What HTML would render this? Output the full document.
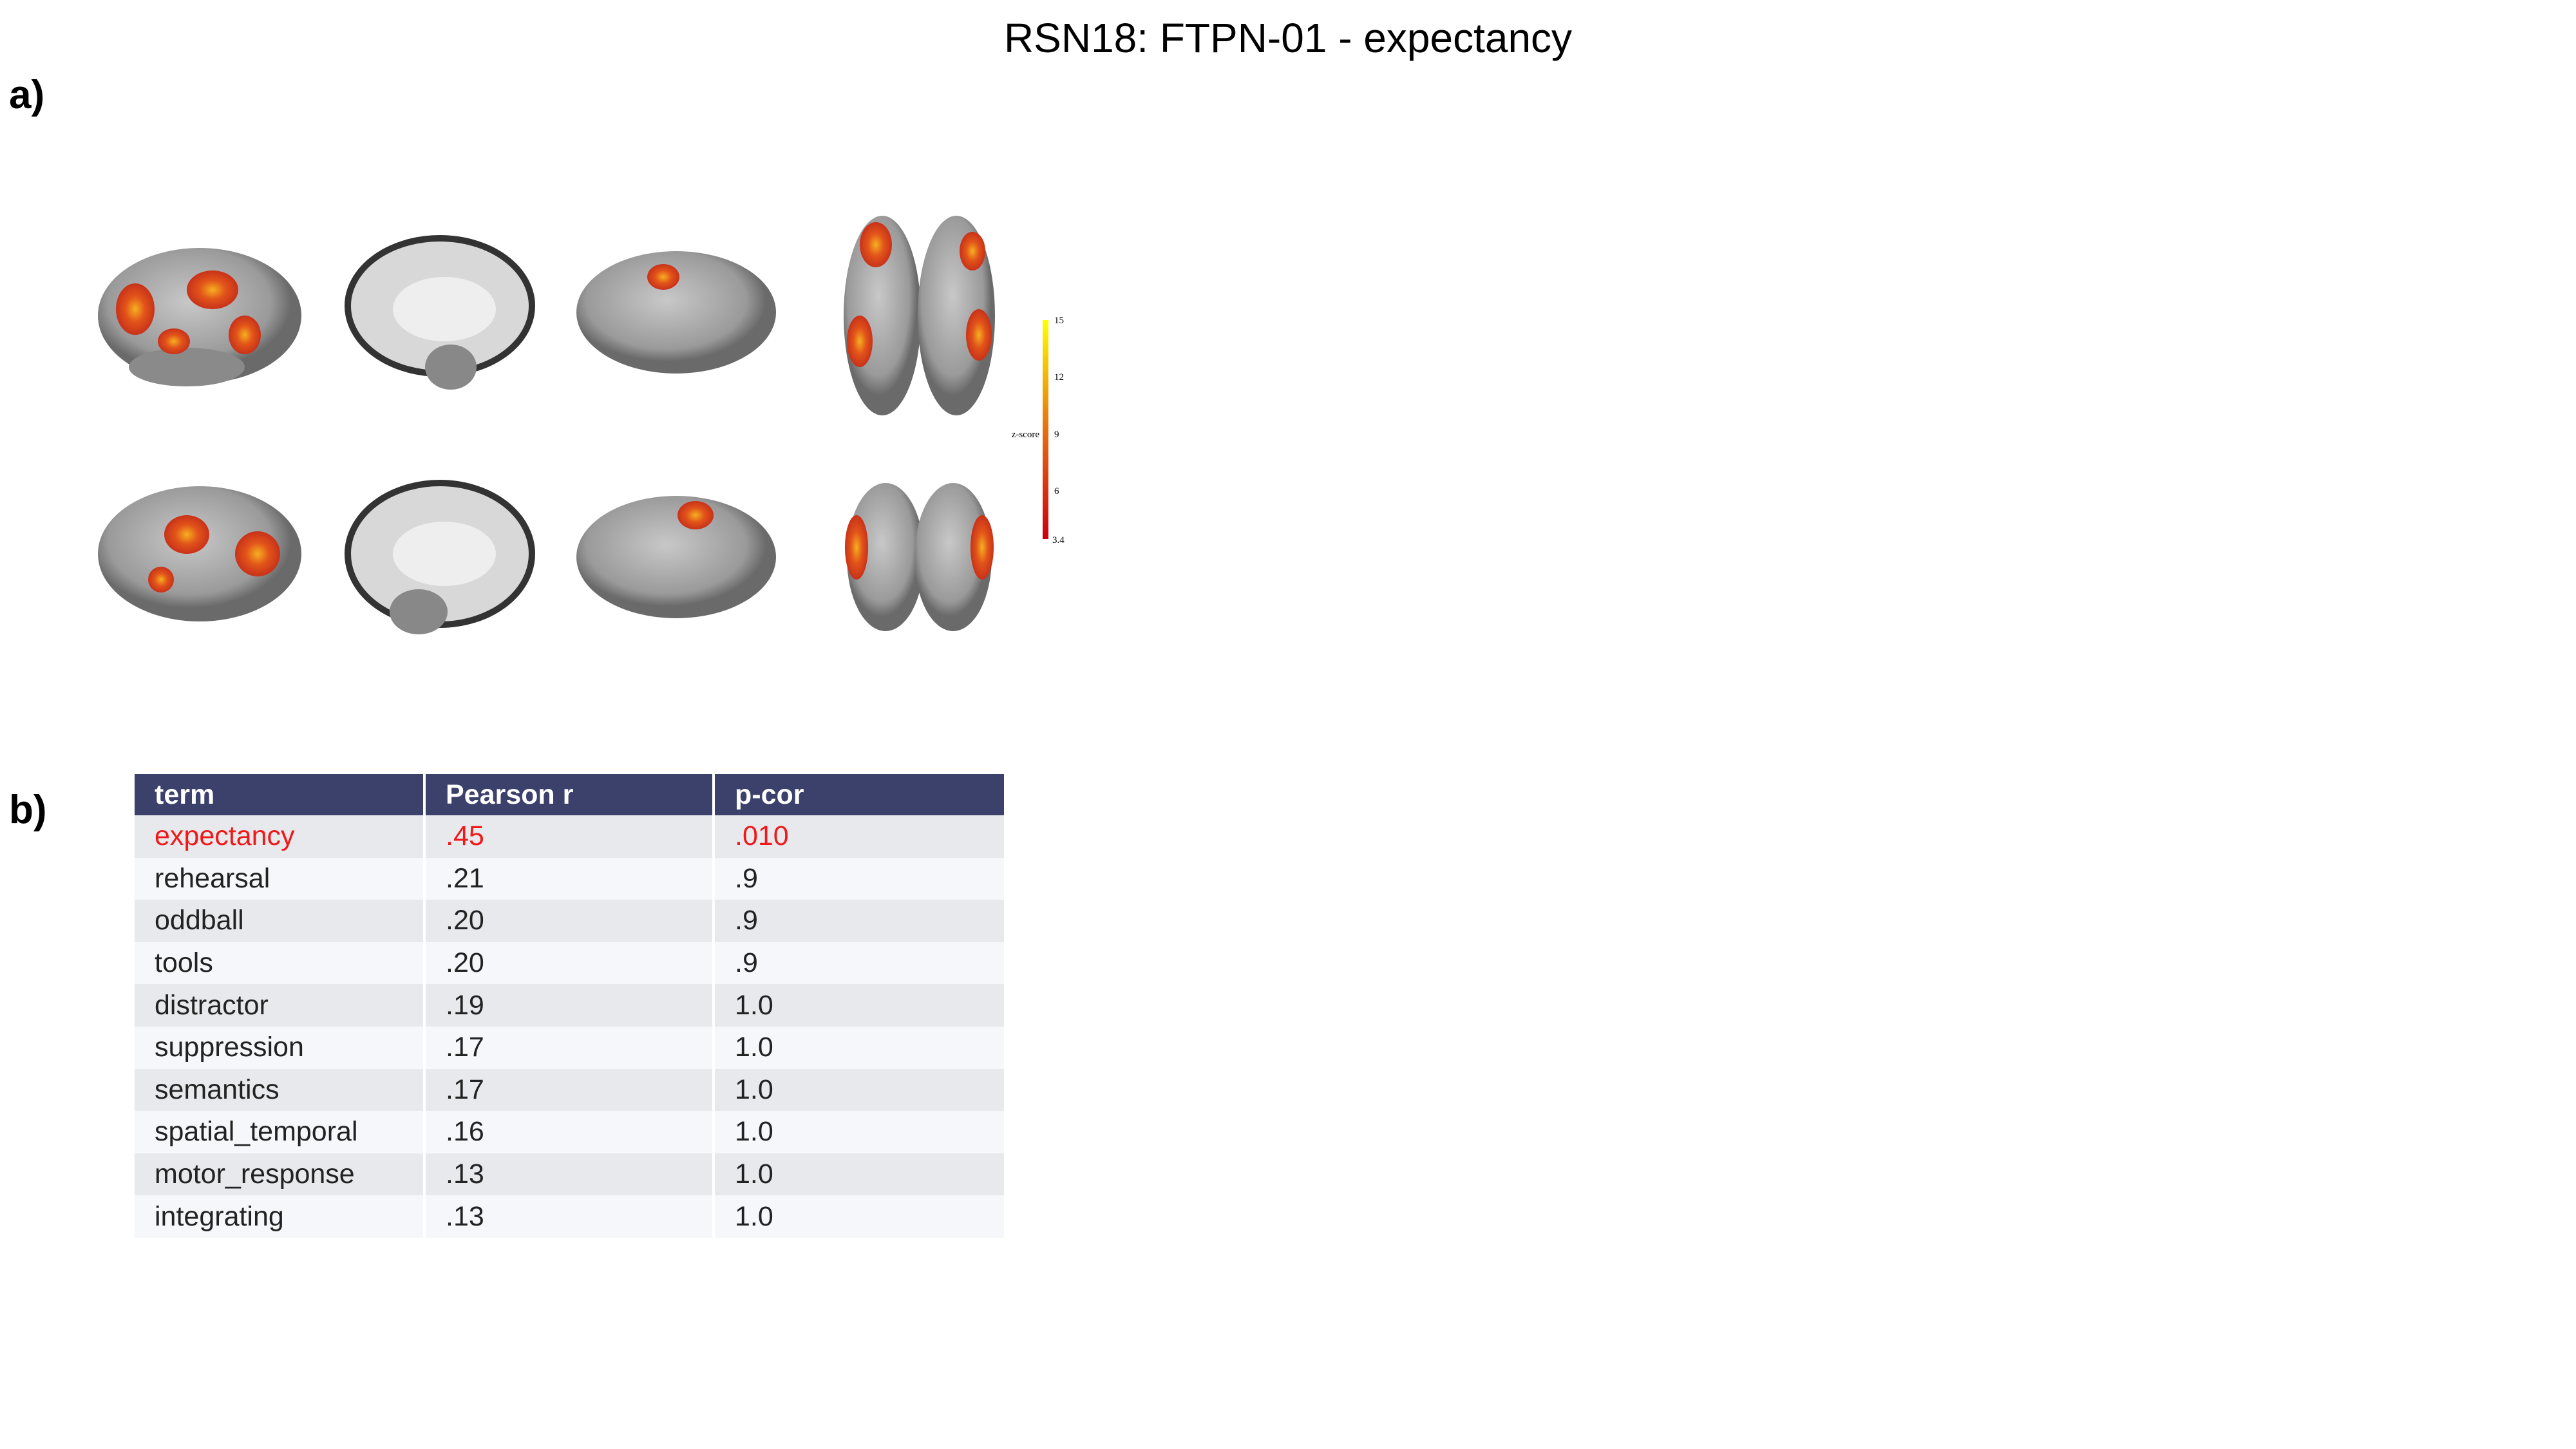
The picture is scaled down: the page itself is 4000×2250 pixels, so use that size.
<!DOCTYPE html>
<html><head><meta charset="utf-8"><style>
body{margin:0;width:4000px;height:2250px;background:#fff;position:relative;overflow:hidden;font-family:"Liberation Sans","DejaVu Sans",sans-serif}
.abs{position:absolute}
table{border-collapse:collapse;table-layout:fixed}
td,th{height:65.6px;padding:0 0 0 31px;text-align:left;font-size:43px;font-family:"Liberation Sans","DejaVu Sans",sans-serif;color:#222;border-right:4px solid #fff}
th{background:#3b416b;color:#fff;font-weight:bold;height:64px}
tr:nth-child(odd) td{background:#f6f7fb}
tr:nth-child(even) td{background:#e8e9ed}
.hl td{color:#f01818}
</style></head><body>
<div class="abs" style="left:0;width:4000px;top:22px;text-align:center;font-size:64px;color:#000">RSN18: FTPN-01 - expectancy</div>
<div class="abs" style="left:14px;top:112px;font-size:62px;font-weight:bold">a)</div>
<div class="abs" style="left:14px;top:1222px;font-size:62px;font-weight:bold">b)</div>

<svg class="abs" style="left:0;top:0" width="1700" height="1000">
<defs>
<radialGradient id="blob"><stop offset="0" stop-color="#f5b020"/><stop offset="0.5" stop-color="#e2541a"/><stop offset="1" stop-color="#c8321a"/></radialGradient>
<radialGradient id="gray" cx="0.45" cy="0.4"><stop offset="0" stop-color="#c8c8c8"/><stop offset="0.8" stop-color="#9a9a9a"/><stop offset="1" stop-color="#6a6a6a"/></radialGradient>
<linearGradient id="cb" x1="0" y1="1" x2="0" y2="0"><stop offset="0" stop-color="#c80010"/><stop offset="0.5" stop-color="#e57010"/><stop offset="1" stop-color="#ffff00"/></linearGradient>
</defs>
<g>
<ellipse cx="310" cy="490" rx="158" ry="105" fill="url(#gray)"/>
<ellipse cx="290" cy="570" rx="90" ry="30" fill="#8a8a8a"/>
<ellipse cx="210" cy="480" rx="30" ry="40" fill="url(#blob)"/><ellipse cx="330" cy="450" rx="40" ry="30" fill="url(#blob)"/>
<ellipse cx="380" cy="520" rx="25" ry="30" fill="url(#blob)"/><ellipse cx="270" cy="530" rx="25" ry="20" fill="url(#blob)"/>
</g>
<g>
<ellipse cx="683" cy="475" rx="143" ry="105" fill="#d8d8d8" stroke="#333" stroke-width="10"/>
<ellipse cx="690" cy="480" rx="80" ry="50" fill="#eee"/><ellipse cx="700" cy="570" rx="40" ry="35" fill="#888"/>
</g>
<g>
<ellipse cx="1050" cy="485" rx="155" ry="95" fill="url(#gray)"/>
<ellipse cx="1030" cy="430" rx="25" ry="20" fill="url(#blob)"/>
</g>
<g>
<ellipse cx="1370" cy="490" rx="60" ry="155" fill="url(#gray)"/><ellipse cx="1485" cy="490" rx="60" ry="155" fill="url(#gray)"/>
<ellipse cx="1360" cy="380" rx="25" ry="35" fill="url(#blob)"/><ellipse cx="1335" cy="530" rx="20" ry="40" fill="url(#blob)"/>
<ellipse cx="1520" cy="520" rx="20" ry="40" fill="url(#blob)"/><ellipse cx="1510" cy="390" rx="20" ry="30" fill="url(#blob)"/>
</g>
<g>
<ellipse cx="310" cy="860" rx="158" ry="105" fill="url(#gray)"/>
<ellipse cx="290" cy="830" rx="35" ry="30" fill="url(#blob)"/><ellipse cx="400" cy="860" rx="35" ry="35" fill="url(#blob)"/>
<ellipse cx="250" cy="900" rx="20" ry="20" fill="url(#blob)"/>
</g>
<g>
<ellipse cx="683" cy="860" rx="143" ry="110" fill="#d8d8d8" stroke="#333" stroke-width="10"/>
<ellipse cx="690" cy="860" rx="80" ry="50" fill="#eee"/><ellipse cx="650" cy="950" rx="45" ry="35" fill="#888"/>
</g>
<g>
<ellipse cx="1050" cy="865" rx="155" ry="95" fill="url(#gray)"/>
<ellipse cx="1080" cy="800" rx="28" ry="22" fill="url(#blob)"/>
</g>
<g>
<ellipse cx="1375" cy="865" rx="60" ry="115" fill="url(#gray)"/><ellipse cx="1480" cy="865" rx="60" ry="115" fill="url(#gray)"/>
<ellipse cx="1330" cy="850" rx="18" ry="50" fill="url(#blob)"/><ellipse cx="1525" cy="850" rx="18" ry="50" fill="url(#blob)"/>
</g>
<g font-family="Liberation Serif, serif" font-size="15" fill="#000">
<rect x="1619" y="497" width="9" height="340" fill="url(#cb)"/>
<text x="1637" y="502">15</text><text x="1637" y="590">12</text><text x="1637" y="679">9</text>
<text x="1637" y="767">6</text><text x="1634" y="843">3.4</text>
<text x="1614" y="679" text-anchor="end">z-score</text>
</g>
</svg>

<table class="abs" style="left:209px;top:1202px;width:1352px">
<colgroup><col style="width:450px"><col style="width:449px"><col style="width:453px"></colgroup>
<tr><th>term</th><th>Pearson r</th><th>p-cor</th></tr>
<tr class="hl"><td>expectancy</td><td>.45</td><td>.010</td></tr>
<tr><td>rehearsal</td><td>.21</td><td>.9</td></tr>
<tr><td>oddball</td><td>.20</td><td>.9</td></tr>
<tr><td>tools</td><td>.20</td><td>.9</td></tr>
<tr><td>distractor</td><td>.19</td><td>1.0</td></tr>
<tr><td>suppression</td><td>.17</td><td>1.0</td></tr>
<tr><td>semantics</td><td>.17</td><td>1.0</td></tr>
<tr><td>spatial_temporal</td><td>.16</td><td>1.0</td></tr>
<tr><td>motor_response</td><td>.13</td><td>1.0</td></tr>
<tr><td>integrating</td><td>.13</td><td>1.0</td></tr>
</table>
</body></html>
